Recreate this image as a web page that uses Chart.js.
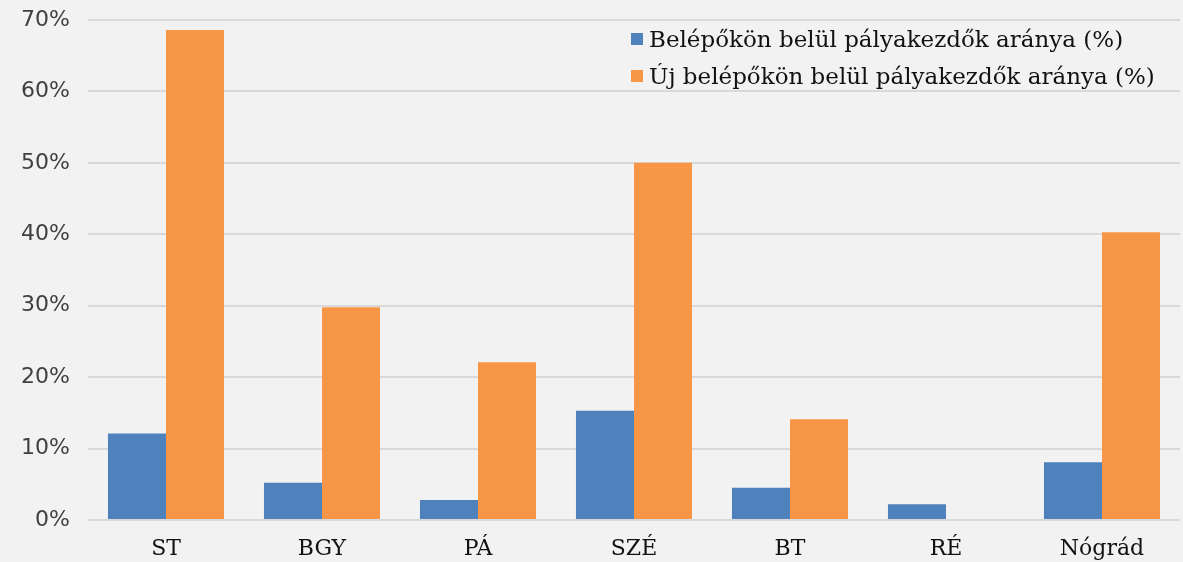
<!DOCTYPE html>
<html lang="hu">
<head>
  <meta charset="UTF-8"/>
  <title>Pályakezdők aránya</title>
  <style>
    * { box-sizing: border-box; }
    html, body { margin: 0; padding: 0; background: #f2f2f2; }
    .wrap { position: relative; width: 1183px; height: 562px; }
    #legend {
      position: absolute; left: 631px; top: 20px;
      list-style: none; margin: 0; padding: 0;
      font-family: "DejaVu Serif", serif; font-size: 23px; color: #111;
    }
    #legend li { display: flex; align-items: center; height: 37px; }
    #legend .swatch { display: inline-block; width: 12px; height: 12px; margin-right: 6px; }
  </style>
  <script src="https://cdn.jsdelivr.net/npm/chart.js"></script>
</head>
<body>
  <div class="wrap">
    <canvas id="chart" width="1183" height="562"></canvas>
    <ul id="legend"></ul>
  </div>
  <script>
    // data (percent)
    const categories = ['ST', 'BGY', 'PÁ', 'SZÉ', 'BT', 'RÉ', 'Nógrád'];
    const seriesNames = ['Belépőkön belül pályakezdők aránya (%)', 'Új belépőkön belül pályakezdők aránya (%)'];
    const belepok    = [12.1, 5.2, 2.8, 15.3, 4.5, 2.2, 8.1];
    const ujBelepok  = [68.6, 29.8, 22.1, 50.0, 14.1, 0, 40.3];
    const yTicks = [0, 10, 20, 30, 40, 50, 60, 70];
    const colors = ['#4f81bd', '#f79646'];

    const chart = new Chart(document.getElementById('chart'), {
      type: 'bar',
      data: {
        labels: categories,
        datasets: [
          { label: seriesNames[0], data: belepok,   backgroundColor: colors[0] },
          { label: seriesNames[1], data: ujBelepok, backgroundColor: colors[1] }
        ]
      },
      options: {
        responsive: false, animation: false,
        layout: { padding: { top: 20, right: 3, left: 0, bottom: 0 } },
        datasets: { bar: { categoryPercentage: 0.744, barPercentage: 1 } },
        scales: {
          x: {
            grid: { display: false, drawTicks: false },
            border: { display: false },
            ticks: { color: '#111', padding: 16, font: { family: 'DejaVu Serif', size: 22 } },
            afterFit: s => { s.height = 42; }
          },
          y: {
            min: 0, max: 70,
            afterBuildTicks: s => { s.ticks = yTicks.map(v => ({ value: v })); },
            grid: { color: '#d9d9d9', lineWidth: 2, drawTicks: false },
            border: { display: false },
            ticks: {
              color: '#404040', padding: 18,
              font: { family: 'DejaVu Sans', size: 22 },
              callback: v => v + '%'
            },
            afterFit: s => { s.width = 88; s.paddingTop = 0; s.paddingBottom = 0; }
          }
        },
        plugins: { legend: { display: false }, tooltip: { enabled: false } }
      }
    });

    // legend inside the plot, top right
    const leg = document.getElementById('legend');
    chart.data.datasets.forEach(ds => {
      const li = document.createElement('li');
      const sw = document.createElement('span');
      sw.className = 'swatch';
      sw.style.backgroundColor = ds.backgroundColor;
      li.appendChild(sw);
      li.appendChild(document.createTextNode(ds.label));
      leg.appendChild(li);
    });
  </script>
</body>
</html>
